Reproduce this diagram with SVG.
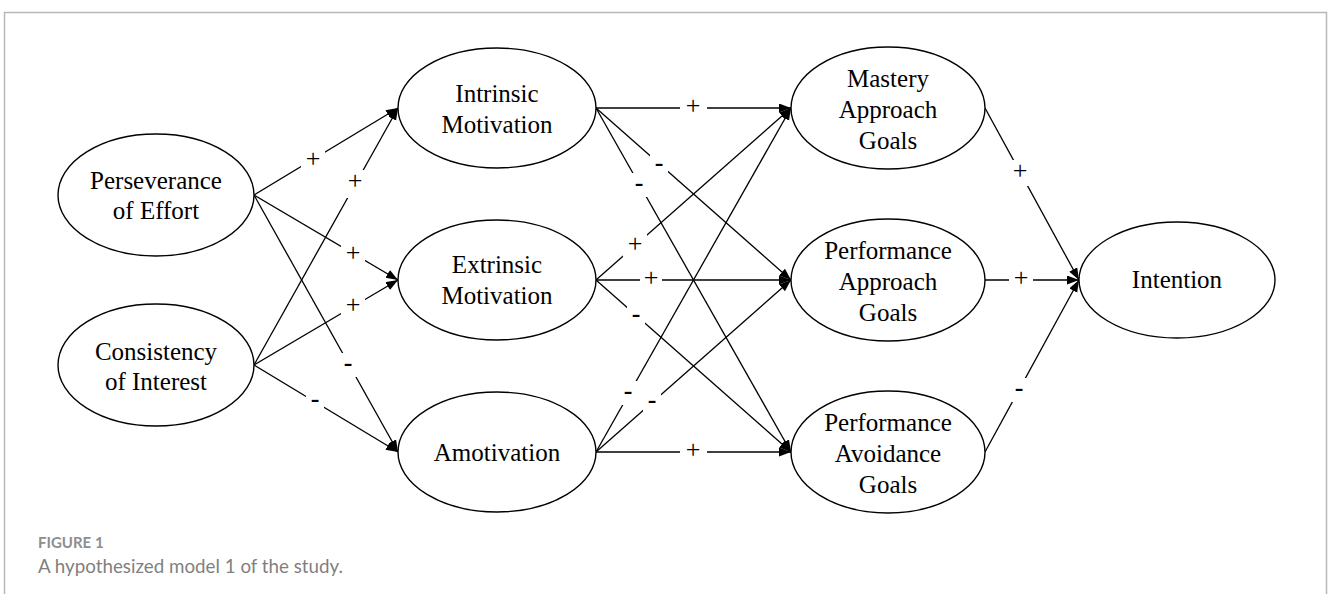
<svg xmlns="http://www.w3.org/2000/svg" width="1328" height="594" viewBox="0 0 1328 594">
<defs>
<marker id="arr" markerUnits="userSpaceOnUse" markerWidth="13" markerHeight="10" refX="12" refY="4.5" orient="auto">
<path d="M0,0 L12,4.5 L0,9 z" fill="#000"/>
</marker>
<style>
.node ellipse{fill:#fff;stroke:#000;stroke-width:1.4}
.node text{font-family:"Liberation Serif","Times New Roman",serif;font-size:25px;fill:#000;text-anchor:middle}
#edges line{stroke:#000;stroke-width:1.3;fill:none;marker-end:url(#arr)}
.lbl rect{fill:#fff}
.lbl text{font-family:"Liberation Serif","Times New Roman",serif;font-size:26px;fill:#000;text-anchor:middle}
.lbl text.m{font-weight:bold}
.cap1{font-family:Lato,"Open Sans",sans-serif;font-size:15px;font-weight:bold;fill:#8e8e8e}
.cap2{font-family:Lato,"Open Sans",sans-serif;font-size:19px;fill:#7f7f7f}
</style>
</defs>
<rect width="1328" height="594" fill="#fff"/>
<path d="M4.5,600 V12.5 H1326.5 V600" fill="none" stroke="#b8b8b8" stroke-width="1.5"/>

<g id="edges">
<line x1="254" y1="195" x2="398" y2="108"/>
<line x1="254" y1="195" x2="398" y2="280"/>
<line x1="254" y1="195" x2="398" y2="452"/>
<line x1="254" y1="365" x2="398" y2="108"/>
<line x1="254" y1="365" x2="398" y2="280"/>
<line x1="254" y1="365" x2="398" y2="452"/>
<line x1="596" y1="108" x2="791" y2="108"/>
<line x1="596" y1="108" x2="791" y2="280"/>
<line x1="596" y1="108" x2="791" y2="452"/>
<line x1="596" y1="280" x2="791" y2="108"/>
<line x1="596" y1="280" x2="791" y2="280"/>
<line x1="596" y1="280" x2="791" y2="452"/>
<line x1="596" y1="452" x2="791" y2="108"/>
<line x1="596" y1="452" x2="791" y2="280"/>
<line x1="596" y1="452" x2="791" y2="452"/>
<line x1="985" y1="108" x2="1079" y2="280"/>
<line x1="985" y1="280" x2="1079" y2="280"/>
<line x1="985" y1="452" x2="1079" y2="280"/>
<g class="lbl">
<rect x="301" y="148" width="24" height="26"/><text x="313" y="167">+</text>
<rect x="343" y="170" width="24" height="28"/><text x="355" y="189">+</text>
<rect x="341" y="242" width="24" height="26"/><text x="353" y="261">+</text>
<rect x="341" y="294" width="24" height="26"/><text x="353" y="313">+</text>
<rect x="339" y="353" width="18" height="24"/><text class="m" x="348" y="371">-</text>
<rect x="306" y="391" width="18" height="20"/><text class="m" x="315" y="407">-</text>
<rect x="680" y="96" width="27" height="24"/><text x="693" y="114">+</text>
<rect x="650" y="153" width="18" height="24"/><text class="m" x="659" y="171">-</text>
<rect x="630" y="173" width="18" height="24"/><text class="m" x="639" y="191">-</text>
<rect x="623" y="233" width="24" height="26"/><text x="635" y="252">+</text>
<rect x="640" y="268" width="22" height="24"/><text x="651" y="286">+</text>
<rect x="627" y="304" width="18" height="24"/><text class="m" x="636" y="322">-</text>
<rect x="619" y="381" width="18" height="24"/><text class="m" x="628" y="399">-</text>
<rect x="643" y="390" width="18" height="24"/><text class="m" x="652" y="408">-</text>
<rect x="680" y="440" width="27" height="24"/><text x="693" y="458">+</text>
<rect x="1008" y="160" width="24" height="26"/><text x="1020" y="179">+</text>
<rect x="1009" y="268" width="24" height="24"/><text x="1021" y="286">+</text>
<rect x="1010" y="378" width="18" height="24"/><text class="m" x="1019" y="396">-</text>
</g>
</g>

<g id="n_perseverance" class="node"><ellipse cx="156" cy="195" rx="98" ry="61"/><text x="156" y="189">Perseverance</text><text x="156" y="219">of Effort</text></g>
<g id="n_consistency" class="node"><ellipse cx="156" cy="365" rx="98" ry="61"/><text x="156" y="360">Consistency</text><text x="156" y="390">of Interest</text></g>
<g id="n_intrinsic" class="node"><ellipse cx="497" cy="108" rx="99" ry="60"/><text x="497" y="102">Intrinsic</text><text x="497" y="133">Motivation</text></g>
<g id="n_extrinsic" class="node"><ellipse cx="497" cy="280" rx="99" ry="60"/><text x="497" y="273">Extrinsic</text><text x="497" y="304">Motivation</text></g>
<g id="n_amotivation" class="node"><ellipse cx="497" cy="452" rx="99" ry="60"/><text x="497" y="461">Amotivation</text></g>
<g id="n_mastery" class="node"><ellipse cx="888" cy="108" rx="97" ry="61"/><text x="888" y="87">Mastery</text><text x="888" y="118">Approach</text><text x="888" y="149">Goals</text></g>
<g id="n_perfapproach" class="node"><ellipse cx="888" cy="280" rx="97" ry="61"/><text x="888" y="259">Performance</text><text x="888" y="290">Approach</text><text x="888" y="321">Goals</text></g>
<g id="n_perfavoid" class="node"><ellipse cx="888" cy="452" rx="97" ry="61"/><text x="888" y="431">Performance</text><text x="888" y="462">Avoidance</text><text x="888" y="493">Goals</text></g>
<g id="n_intention" class="node"><ellipse cx="1177" cy="280" rx="98" ry="58"/><text x="1177" y="288">Intention</text></g>

<text class="cap1" x="38" y="548">FIGURE 1</text>
<text class="cap2" x="38" y="573" textLength="305" lengthAdjust="spacingAndGlyphs">A hypothesized model 1 of the study.</text>
</svg>
